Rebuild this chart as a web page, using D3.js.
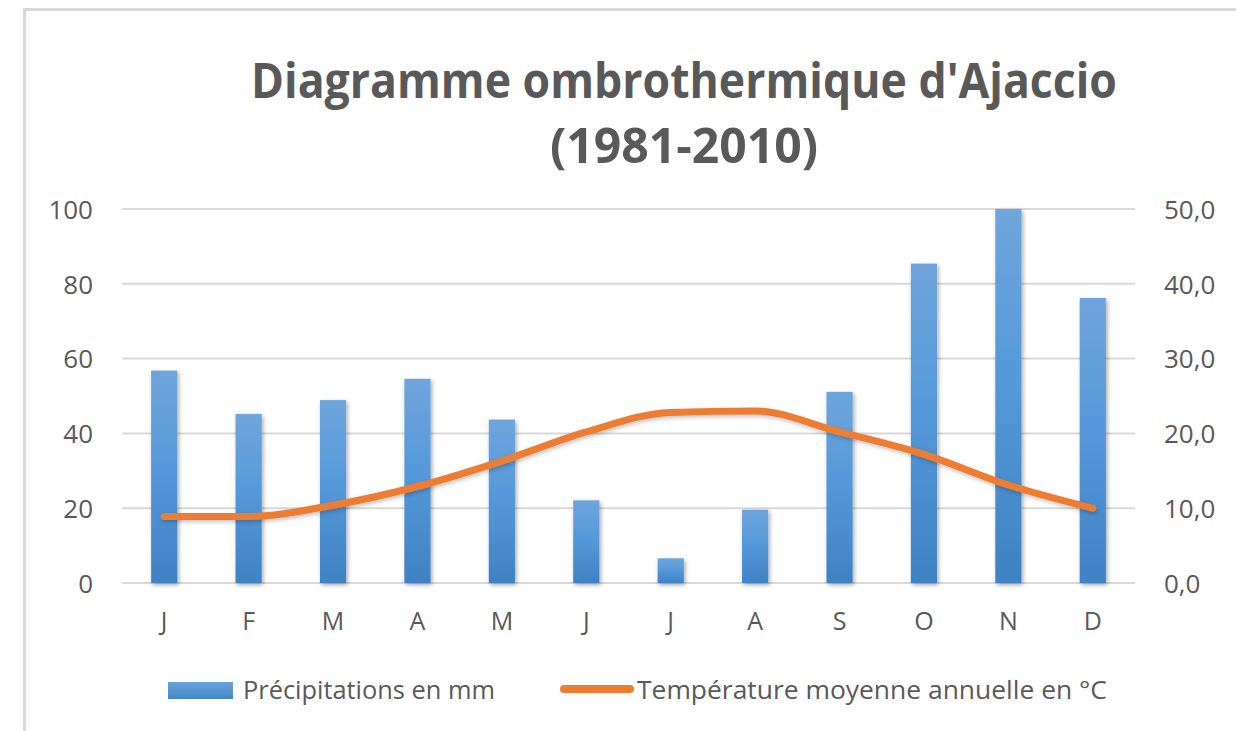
<!DOCTYPE html>
<html lang="fr">
<head>
<meta charset="utf-8">
<script src="https://cdn.jsdelivr.net/npm/d3@7"></script>
<style>
  html, body { margin: 0; padding: 0; background: #ffffff; }
  svg { display: block; }
  text { font-family: "Open Sans", "Noto Sans", sans-serif; fill: #595959; }
</style>
</head>
<body>
<svg id="chart" width="1236" height="731"></svg>
<script>
// Monthly climate normals for Ajaccio, 1981-2010
const months = ["J", "F", "M", "A", "M", "J", "J", "A", "S", "O", "N", "D"];
const precipitation = [56.8, 45.2, 48.9, 54.6, 43.7, 22.1, 6.6, 19.6, 51.1, 85.4, 100.0, 76.2];
const temperature = [8.9, 8.9, 10.4, 12.9, 16.3, 20.2, 22.8, 23.0, 20.2, 17.2, 13.1, 10.0];
const precipTicks = [0, 20, 40, 60, 80, 100];
const tempTicks = [0, 10, 20, 30, 40, 50];
const titleLines = ["Diagramme ombrothermique d'Ajaccio", "(1981-2010)"];
const legendLabels = ["Précipitations en mm", "Température moyenne annuelle en °C"];

const svg = d3.select("#chart");
const W = 1236, H = 731;
const plot = { left: 122, right: 1135, top: 209, bottom: 583 };

svg.append("rect").attr("width", W).attr("height", H).attr("fill", "#ffffff");

// Frame
svg.append("line").attr("x1", 23).attr("x2", W).attr("y1", 9.5).attr("y2", 9.5)
  .attr("stroke", "#d9d9d9").attr("stroke-width", 3);
svg.append("line").attr("x1", 24.5).attr("x2", 24.5).attr("y1", 8).attr("y2", H)
  .attr("stroke", "#d9d9d9").attr("stroke-width", 3);

const defs = svg.append("defs");
const grad = defs.append("linearGradient").attr("id", "barFill")
  .attr("x1", 0).attr("y1", 0).attr("x2", 0).attr("y2", 1);
grad.append("stop").attr("offset", "0%").attr("stop-color", "#6fa5dc");
grad.append("stop").attr("offset", "45%").attr("stop-color", "#5599da");
grad.append("stop").attr("offset", "100%").attr("stop-color", "#3f82c4");

const legGrad = defs.append("linearGradient").attr("id", "legFill")
  .attr("x1", 0).attr("y1", 0).attr("x2", 0).attr("y2", 1);
legGrad.append("stop").attr("offset", "0%").attr("stop-color", "#6aa3dc");
legGrad.append("stop").attr("offset", "100%").attr("stop-color", "#4287c9");

const shadow = defs.append("filter").attr("id", "shadow")
  .attr("x", "-50%").attr("y", "-10%").attr("width", "200%").attr("height", "130%");
shadow.append("feDropShadow").attr("dx", 1.5).attr("dy", 2).attr("stdDeviation", 2)
  .attr("flood-color", "#000").attr("flood-opacity", 0.35);

const lineShadow = defs.append("filter").attr("id", "lineShadow")
  .attr("x", "-5%").attr("y", "-20%").attr("width", "110%").attr("height", "140%");
lineShadow.append("feDropShadow").attr("dx", 1).attr("dy", 2).attr("stdDeviation", 2)
  .attr("flood-color", "#000").attr("flood-opacity", 0.25);

// Scales
const x = d3.scaleBand().domain(d3.range(months.length))
  .range([plot.left, plot.right]).paddingInner(0.69).paddingOuter(0.345);
const yP = d3.scaleLinear().domain([0, 100]).range([plot.bottom, plot.top]);
const yT = d3.scaleLinear().domain([0, 50]).range([plot.bottom, plot.top]);

// Gridlines
svg.append("g").selectAll("line").data(precipTicks).join("line")
  .attr("x1", plot.left).attr("x2", plot.right)
  .attr("y1", d => yP(d)).attr("y2", d => yP(d))
  .attr("stroke", "#d9d9d9").attr("stroke-width", 2);

// Left axis (precipitation)
const leftAxis = svg.append("g").attr("transform", `translate(${93},0)`)
  .call(d3.axisLeft(yP).tickValues(precipTicks).tickSize(0).tickPadding(0).tickFormat(d3.format("d")));
leftAxis.select(".domain").remove();
leftAxis.selectAll("text").attr("font-size", 26).attr("fill", "#595959")
  .attr("font-family", "Open Sans").attr("dy", "0.36em");

// Right axis (temperature)
const fmtT = d => d3.format(".1f")(d).replace(".", ",");
const rightAxis = svg.append("g").attr("transform", `translate(${1164},0)`)
  .call(d3.axisRight(yT).tickValues(tempTicks).tickSize(0).tickPadding(0).tickFormat(fmtT));
rightAxis.select(".domain").remove();
rightAxis.selectAll("text").attr("font-size", 26).attr("fill", "#595959")
  .attr("font-family", "Open Sans").attr("dy", "0.36em");

// Bottom axis (months)
const bottomAxis = svg.append("g").attr("transform", `translate(0,${plot.bottom})`)
  .call(d3.axisBottom(x).tickSize(0).tickPadding(29).tickFormat(i => months[i]));
bottomAxis.select(".domain").remove();
bottomAxis.selectAll("text").attr("font-size", 25).attr("fill", "#595959")
  .attr("font-family", "Open Sans");

// Precipitation bars
svg.append("g").attr("filter", "url(#shadow)")
  .selectAll("rect").data(precipitation).join("rect")
  .attr("x", (d, i) => x(i))
  .attr("width", x.bandwidth())
  .attr("y", d => yP(d))
  .attr("height", d => yP(0) - yP(d))
  .attr("fill", "url(#barFill)");

// Temperature line (smoothed without overshoot)
const line = d3.line()
  .x((d, i) => x(i) + x.bandwidth() / 2)
  .y(d => yT(d))
  .curve(d3.curveMonotoneX);
svg.append("path").datum(temperature)
  .attr("d", line)
  .attr("fill", "none")
  .attr("stroke", "#ed7d31")
  .attr("stroke-width", 7)
  .attr("stroke-linecap", "round")
  .attr("stroke-linejoin", "round")
  .attr("filter", "url(#lineShadow)");

// Title
const title = svg.append("g");
title.append("text").attr("x", 684).attr("y", 98)
  .attr("text-anchor", "middle").attr("font-size", 49).attr("font-weight", 700)
  .attr("textLength", 866).attr("lengthAdjust", "spacingAndGlyphs")
  .text(titleLines[0]);
title.append("text").attr("x", 684).attr("y", 163)
  .attr("text-anchor", "middle").attr("font-size", 49).attr("font-weight", 700)
  .attr("textLength", 268).attr("lengthAdjust", "spacingAndGlyphs")
  .text(titleLines[1]);

// Legend
const legend = svg.append("g");
legend.append("rect").attr("x", 168).attr("y", 682).attr("width", 65).attr("height", 17)
  .attr("fill", "url(#legFill)");
legend.append("text").attr("x", 243).attr("y", 699).attr("font-size", 25)
  .attr("textLength", 252).attr("lengthAdjust", "spacingAndGlyphs")
  .text(legendLabels[0]);
legend.append("line").attr("x1", 564).attr("x2", 630).attr("y1", 689).attr("y2", 689)
  .attr("stroke", "#ed7d31").attr("stroke-width", 8).attr("stroke-linecap", "round");
legend.append("text").attr("x", 637).attr("y", 699).attr("font-size", 25)
  .attr("textLength", 470).attr("lengthAdjust", "spacingAndGlyphs")
  .text(legendLabels[1]);
</script>
</body>
</html>
